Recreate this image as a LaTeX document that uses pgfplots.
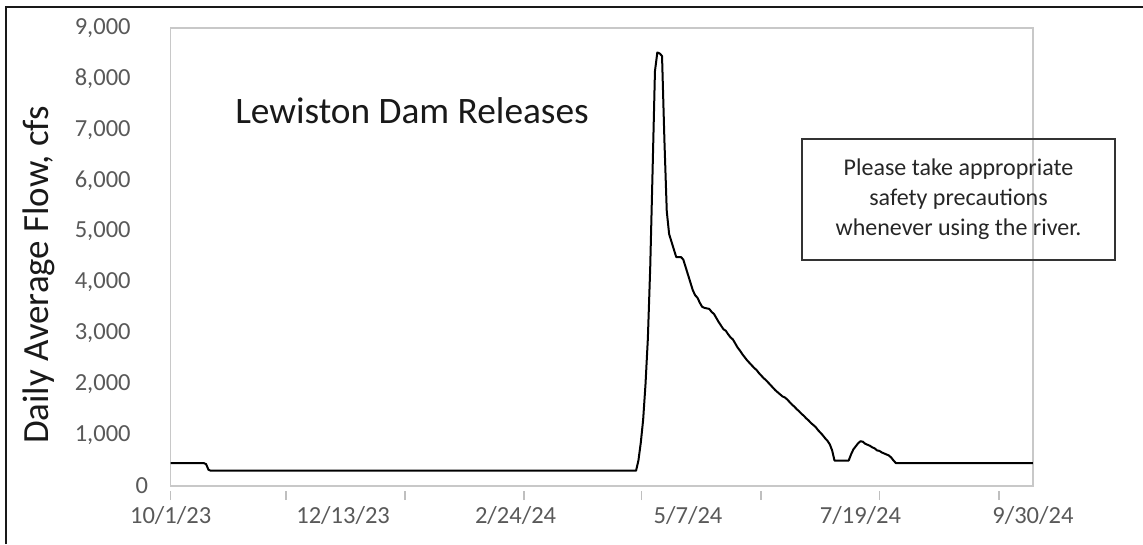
\documentclass[border=0pt]{standalone}
\usepackage{fontspec}
\setmainfont{Carlito}
\usepackage{pgfplots}
\pgfplotsset{compat=1.18}
\definecolor{framegray}{RGB}{200,200,200}
\definecolor{tickgray}{RGB}{191,191,191}
\definecolor{labelgray}{RGB}{89,89,89}
\definecolor{textdark}{RGB}{38,38,38}
\begin{document}
\begin{tikzpicture}[x=0.75pt,y=0.75pt]
\path[use as bounding box] (0,0) rectangle (1143,544);
% outer border (left and top only)
\draw[line width=1.7pt, black!90] (6.2,0) -- (6.2,537) -- (1143,537);
\begin{axis}[
  at={(128.0pt,43.5pt)}, anchor=south west,
  scale only axis, width=646.7pt, height=343.5pt,
  xmin=0, xmax=365, ymin=0, ymax=9000,
  axis line style={draw=framegray, line width=1pt},
  ytick={1000,2000,...,9000},
  ytick style={draw=none},
  extra y ticks={0},
  extra y tick style={yticklabel style={xshift=13pt}},
  yticklabel style={font=\fontsize{18.4}{22}\selectfont, text=labelgray, xshift=-19.4pt},
  % tick marks
  xtick={0,48.8,99.2,149.5,199.4,249.8,300.1,350.6},
  xticklabels={},
  xtick pos=lower,
  tick align=outside,
  major tick length=7.1pt,
  xtick style={draw=tickgray, line width=1.1pt, yshift=-3.5pt},
  % date labels
  extra x ticks={0,73,146,219,292,365},
  extra x tick labels={10/1/23,12/13/23,2/24/24,5/7/24,7/19/24,9/30/24},
  extra x tick style={major tick length=0pt},
  xticklabel style={font=\fontsize{18.4}{22}\selectfont, text=labelgray, yshift=-12pt},
  /pgf/number format/.cd, 1000 sep={,}, assume math mode=true,
]
\addplot[black, line width=1.5pt, line join=round] coordinates {
(0,450)(14,450)(15,430)(16,320)(17,300)(197,300)(198,500)(199,850)(200,1300)
(201,2000)(202,2900)(203,4300)(204,6200)(205,8150)(206,8520)(207,8500)(208,8450)
(209,6800)(210,5400)(211,4950)(212,4800)(213,4650)(214,4500)(216,4500)(217,4450)
(218,4300)(219,4150)(220,4000)(221,3850)(222,3750)(223,3700)(224,3600)(225,3520)
(226,3500)(228,3480)(229,3420)(230,3380)(231,3300)(232,3220)(233,3150)(234,3080)
(235,3050)(236,2980)(237,2920)(238,2880)(239,2800)(240,2720)(241,2660)(242,2590)
(243,2530)(244,2470)(245,2420)(246,2370)(247,2320)(248,2280)(249,2220)(250,2170)
(251,2120)(252,2080)(253,2030)(254,1980)(255,1930)(256,1880)(257,1840)(258,1800)
(259,1760)(260,1740)(261,1700)(262,1650)(263,1600)(264,1560)(265,1510)(266,1470)
(267,1420)(268,1380)(269,1330)(270,1290)(271,1240)(272,1200)(273,1160)(274,1100)
(275,1050)(276,1000)(277,940)(278,890)(279,820)(280,700)(281,500)(282,500)
(287,500)(288,620)(289,720)(290,780)(291,840)(292,880)(293,870)(294,830)(295,810)
(296,790)(297,760)(298,740)(299,700)(300,690)(301,660)(302,640)(303,620)(304,600)
(305,560)(306,500)(307,450)(365,450)
};
\end{axis}
% axis title
\node[rotate=90, anchor=base, text=black!90, font=\fontsize{27.7}{32}\selectfont, inner sep=0pt]
  at (48.3,269) {Daily Average Flow, cfs};
% chart title
\node[anchor=base west, text=black!90, font=\fontsize{28}{32}\selectfont, inner sep=0pt]
  at (235,421) {Lewiston Dam Releases};
% note box
\draw[line width=1.5pt, black!80] (802,405) rectangle (1115,284);
\node[align=center, text=textdark, font=\fontsize{18}{22.5}\selectfont, inner sep=0pt]
  at (958.5,344.5) {Please take appropriate\\safety precautions\\whenever using the river.};
\end{tikzpicture}
\end{document}
